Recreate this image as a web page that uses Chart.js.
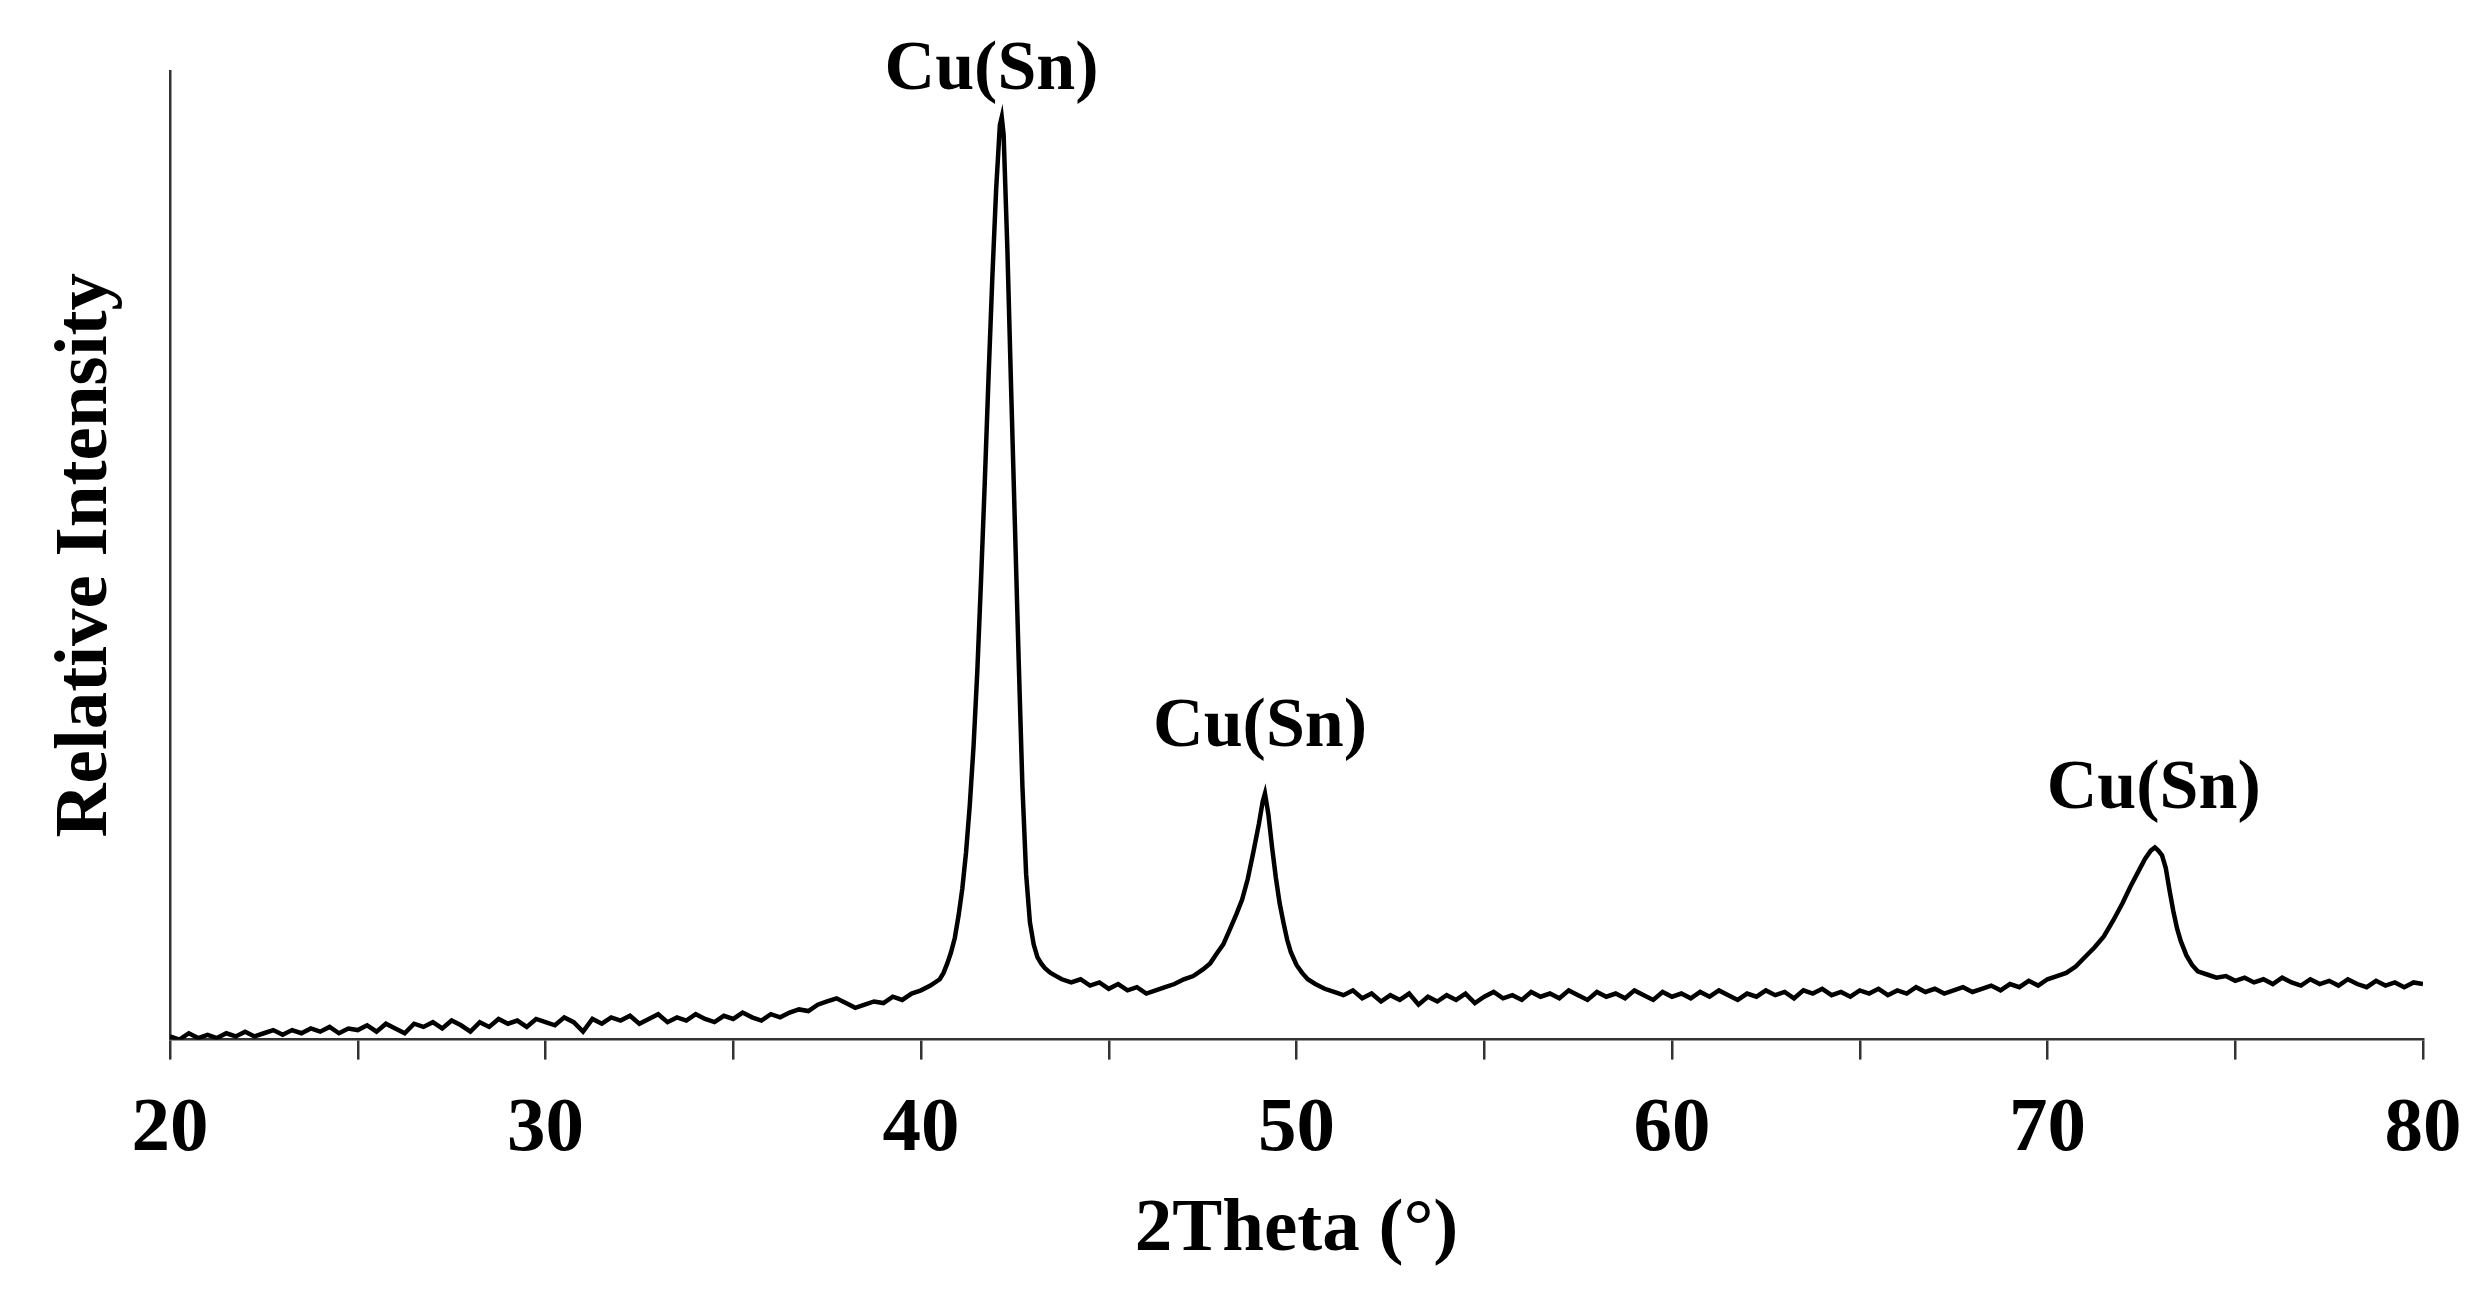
<!DOCTYPE html>
<html>
<head>
<meta charset="utf-8">
<script src="https://cdn.jsdelivr.net/npm/chart.js@4"></script>
<style>
  body { margin: 0; background: #fff; }
  canvas { display: block; }
</style>
</head>
<body>
<canvas id="xrdChart" width="2488" height="1291"></canvas>
<script>
// XRD pattern: 2Theta (deg) vs relative intensity
const twoTheta = [
  20.00, 20.25, 20.50, 20.75, 21.00, 21.25, 21.50, 21.75, 22.00, 22.25, 22.50, 22.75,
  23.00, 23.25, 23.50, 23.75, 24.00, 24.25, 24.50, 24.75, 25.00, 25.25, 25.50, 25.75,
  26.00, 26.25, 26.50, 26.75, 27.00, 27.25, 27.50, 27.75, 28.00, 28.25, 28.50, 28.75,
  29.00, 29.25, 29.50, 29.75, 30.00, 30.25, 30.50, 30.75, 31.00, 31.25, 31.50, 31.75,
  32.00, 32.25, 32.50, 32.75, 33.00, 33.25, 33.50, 33.75, 34.00, 34.25, 34.50, 34.75,
  35.00, 35.25, 35.50, 35.75, 36.00, 36.25, 36.50, 36.75, 37.00, 37.25, 37.50, 37.75,
  38.00, 38.25, 38.50, 38.75, 39.00, 39.25, 39.50, 39.75, 40.00, 40.25, 40.50,
  40.60, 40.70, 40.80, 40.90, 41.00, 41.10, 41.20, 41.30, 41.40, 41.50, 41.60, 41.70,
  41.80, 41.90, 42.00, 42.10, 42.15, 42.20, 42.30, 42.40, 42.50, 42.60, 42.70, 42.80,
  42.90, 43.00, 43.10, 43.20, 43.30, 43.45, 43.60, 43.75,
  44.00, 44.25, 44.50, 44.75, 45.00, 45.25, 45.50, 45.75, 46.00, 46.25, 46.50, 46.75,
  47.00, 47.25, 47.50, 47.70, 47.90, 48.05, 48.20, 48.40, 48.55, 48.70, 48.85, 49.00,
  49.10, 49.16, 49.25, 49.35, 49.45, 49.55, 49.65, 49.75, 49.85, 50.00, 50.15, 50.30,
  50.50, 50.75, 51.00,
  51.25, 51.50, 51.75, 52.00, 52.25, 52.50, 52.75, 53.00, 53.25, 53.50, 53.75, 54.00,
  54.25, 54.50, 54.75, 55.00, 55.25, 55.50, 55.75, 56.00, 56.25, 56.50, 56.75, 57.00,
  57.25, 57.50, 57.75, 58.00, 58.25, 58.50, 58.75, 59.00, 59.25, 59.50, 59.75, 60.00,
  60.25, 60.50, 60.75, 61.00, 61.25, 61.50, 61.75, 62.00, 62.25, 62.50, 62.75, 63.00,
  63.25, 63.50, 63.75, 64.00, 64.25, 64.50, 64.75, 65.00, 65.25, 65.50, 65.75, 66.00,
  66.25, 66.50, 66.75, 67.00, 67.25, 67.50, 67.75, 68.00, 68.25, 68.50, 68.75, 69.00,
  69.25, 69.50, 69.75, 70.00, 70.25, 70.50, 70.75, 71.00, 71.25, 71.50, 71.75, 72.00,
  72.20, 72.40, 72.60, 72.75, 72.86, 72.95, 73.05, 73.15, 73.25, 73.35, 73.45, 73.55,
  73.70, 73.85, 74.00, 74.25, 74.50, 74.75, 75.00, 75.25, 75.50, 75.75, 76.00, 76.25,
  76.50, 76.75, 77.00, 77.25, 77.50, 77.75, 78.00, 78.25, 78.50, 78.75, 79.00, 79.25,
  79.50, 79.75, 80.00
];

const intensity = [
  2, 0, 4, 1, 3, 1, 4, 2, 5, 2, 4, 6,
  3, 6, 4, 7, 5, 8, 4, 7, 6, 9, 5, 10,
  7, 4, 10, 8, 11, 7, 12, 9, 5, 11, 8, 13,
  10, 12, 8, 13, 11, 9, 14, 11, 5, 13, 10, 14,
  12, 15, 10, 13, 16, 11, 14, 12, 16, 13, 11, 15,
  13, 17, 14, 12, 16, 14, 17, 19, 18, 22, 24, 26,
  23, 20, 22, 24, 23, 27, 25, 29, 31, 34, 38,
  42, 48, 55, 64, 78, 95, 118, 148, 185, 232, 290, 352,
  418, 480, 535, 576, 581, 570, 498, 410, 325, 240, 160, 104,
  74, 60, 52, 48, 45, 42, 40, 38,
  36, 38, 34, 36, 32, 35, 31, 33, 29, 31, 33, 35,
  38, 40, 44, 48, 55, 60, 68, 79, 88, 101, 118, 136,
  150, 155, 142, 121, 102, 86, 74, 63, 55, 47, 42, 38,
  35, 32, 30,
  28, 31, 26, 29, 24, 28, 25, 29, 22, 27, 24, 28,
  25, 29, 23, 27, 30, 26, 28, 25, 30, 27, 29, 26,
  31, 28, 25, 30, 27, 29, 26, 31, 28, 25, 30, 27,
  29, 26, 30, 27, 31, 28, 25, 29, 27, 31, 28, 30,
  26, 31, 29, 32, 28, 30, 27, 31, 29, 32, 28, 31,
  29, 33, 30, 32, 29, 31, 33, 30, 32, 34, 31, 35,
  33, 37, 34, 38, 40, 42, 46, 52, 58, 65, 75, 86,
  96, 105, 114, 119, 121, 119, 116, 108, 94, 81, 70, 62,
  53, 47, 43, 41, 39, 40, 37, 39, 36, 38, 35, 39,
  36, 34, 38, 35, 37, 34, 38, 35, 33, 37, 34, 36,
  33, 36, 35
];

// peak annotations
const peakLabels = ['Cu(Sn)', 'Cu(Sn)', 'Cu(Sn)'];
const peakLabelAngles = [41.88, 49.03, 72.83];
const peakLabelLevels = [610, 196, 157];

const xMin = 20, xMax = 80, xStep = 5;
const yMax = 610;

const serif = '"Liberation Serif", "Times New Roman", serif';

const peakLabelPlugin = {
  id: 'peakLabels',
  afterDatasetsDraw(chart) {
    const { ctx, scales: { x, y } } = chart;
    ctx.save();
    ctx.fillStyle = '#000';
    ctx.font = 'bold 70px ' + serif;
    ctx.textAlign = 'center';
    ctx.textBaseline = 'middle';
    peakLabels.forEach((text, i) => {
      ctx.fillText(text, x.getPixelForValue(peakLabelAngles[i]), y.getPixelForValue(peakLabelLevels[i]));
    });
    ctx.restore();
  }
};

Chart.defaults.color = '#000';

const ctx = document.getElementById('xrdChart').getContext('2d');
new Chart(ctx, {
  type: 'line',
  data: {
    datasets: [{
      data: twoTheta.map((t, i) => ({ x: t, y: intensity[i] })),
      borderColor: '#000',
      borderWidth: 4.5,
      pointRadius: 0,
      tension: 0,
      fill: false
    }]
  },
  options: {
    responsive: false,
    animation: false,
    devicePixelRatio: 1,
    layout: { padding: { left: 0, right: 65, top: 71, bottom: 0 } },
    plugins: { legend: { display: false }, tooltip: { enabled: false } },
    scales: {
      x: {
        type: 'linear',
        min: xMin,
        max: xMax,
        border: { display: true, color: '#333', width: 2.5 },
        grid: { drawOnChartArea: false, drawTicks: true, tickLength: 20, color: '#333', lineWidth: 2.5 },
        ticks: {
          stepSize: xStep,
          autoSkip: false,
          maxRotation: 0,
          padding: 24,
          font: { family: serif, size: 77, weight: 'bold' },
          callback: (v) => (v % 10 === 0 ? v : '')
        },
        title: {
          display: true,
          text: '2Theta (°)',
          font: { family: serif, size: 75, weight: 'bold' },
          padding: { top: -14, bottom: 15 }
        }
      },
      y: {
        min: 0,
        max: yMax,
        border: { display: true, color: '#333', width: 2.5 },
        grid: { display: false, drawTicks: false },
        ticks: { display: false },
        title: {
          display: true,
          text: 'Relative Intensity',
          font: { family: serif, size: 75, weight: 'bold' },
          padding: { top: 42, bottom: 38 }
        }
      }
    }
  },
  plugins: [peakLabelPlugin]
});
</script>
</body>
</html>
